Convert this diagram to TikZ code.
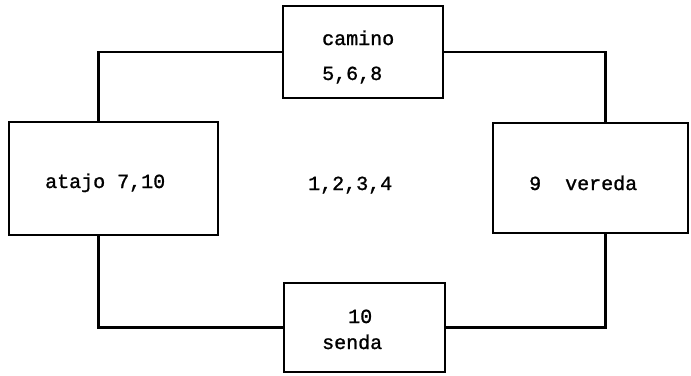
\documentclass[tikz,border=0pt]{standalone}
\usepackage{fontspec}
\setmonofont[FakeBold=1.2]{Liberation Mono}
\begin{document}
\begin{tikzpicture}[x=1pt,y=-1pt,
  box/.style n args={2}{draw, line width=2.8pt, inner sep=0pt,
    minimum width=#1pt, minimum height=#2pt, rectangle},
  wire/.style={line width=2.8pt},
  txt/.style={font=\ttfamily\fontsize{20}{24}\selectfont, anchor=base west, inner sep=0pt}]
\useasboundingbox (0,0) rectangle (691,375);

% the four boxes
\node[box={160}{92}]  (camino) at (363,52) {};
\node[box={209}{113}] (atajo)  at (113.5,178.5) {};
\node[box={195}{110}] (vereda) at (590.5,178) {};
\node[box={161}{89}]  (senda)  at (364.5,327.5) {};

% labels
\node[txt] (tcamino) at (322,45) {camino};
\node[txt] (tcaminon) at (322,80) {5,6,8};
\node[txt] (tatajo) at (45,188) {atajo 7,10};
\node[txt] (tcentro) at (308,190) {1,2,3,4};
\node[txt] (tvereda) at (529,190) {9\ \ vereda};
\node[txt] (tsendan) at (348,323) {10};
\node[txt] (tsenda) at (322,349) {senda};

% connecting lines
\coordinate (atn) at ([xshift=91pt]atajo.north west);
\coordinate (ats) at ([xshift=91pt]atajo.south west);
\coordinate (ven) at ([xshift=114pt]vereda.north west);
\coordinate (ves) at ([xshift=114pt]vereda.south west);
\draw[wire] (camino.west) -| (atn);
\draw[wire] (camino.east) -| (ven);
\draw[wire] (ats) |- (senda.west);
\draw[wire] (ves) |- (senda.east);
\end{tikzpicture}
\end{document}
